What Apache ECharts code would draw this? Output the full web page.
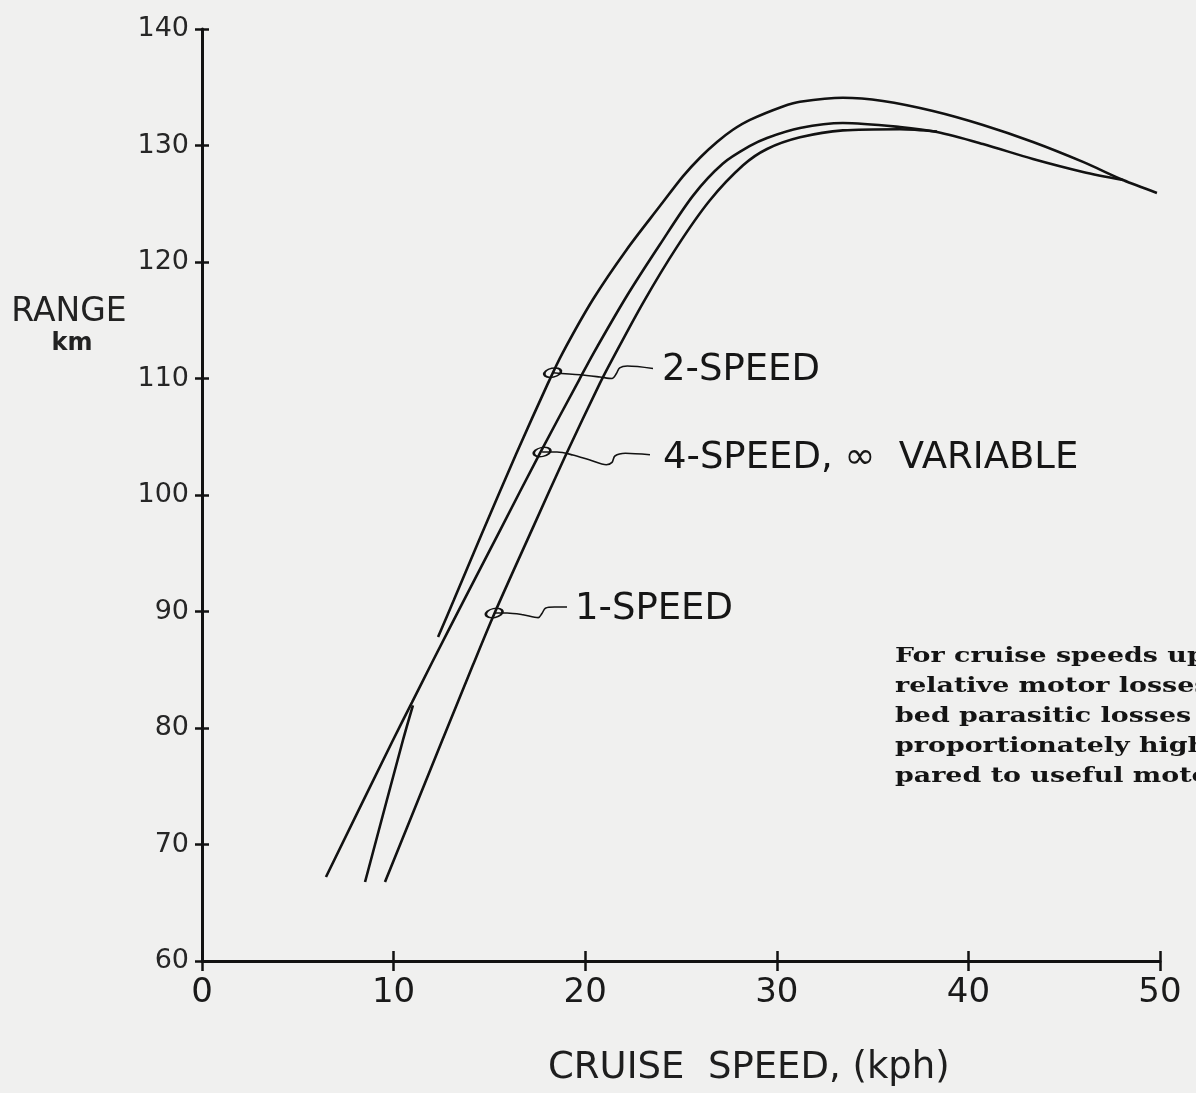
<!DOCTYPE html>
<html>
<head>
<meta charset="utf-8">
<title>Range vs cruise speed</title>
<script src="https://cdn.jsdelivr.net/npm/echarts@6/dist/echarts.min.js"></script>
<style>
  html, body { margin: 0; padding: 0; background: #f0f0ef; }
  #chart { width: 1196px; height: 1093px; }
</style>
</head>
<body>
<div id="chart"></div>
<script>
// Axis scales
const speedMin = 0, speedMax = 50, speedStep = 10;
const rangeMin = 60, rangeMax = 140, rangeStep = 10;

// Range (km) against cruise speed (kph) for each transmission
const twoSpeed = [
  [12.32, 87.81], [13.15, 91.00], [14.56, 96.50], [16.39, 103.50], [18.06, 109.60],
  [18.79, 112.10], [20.41, 116.80], [22.18, 121.10], [23.90, 124.80], [25.10, 127.35],
  [25.99, 128.95], [26.88, 130.30], [27.71, 131.35], [28.60, 132.20], [30.32, 133.35],
  [31.21, 133.75], [33.45, 134.10], [35.54, 133.82], [38.15, 132.96], [40.76, 131.76],
  [43.37, 130.30], [45.98, 128.59], [48.07, 127.04], [49.84, 125.93]
];
const fourSpeedVariable = [
  [6.47, 67.21], [9.92, 78.80], [10.96, 82.20], [12.00, 85.60], [13.62, 90.80],
  [15.55, 96.95], [17.64, 103.60], [19.68, 109.87], [20.41, 112.10], [22.18, 117.10],
  [23.90, 121.50], [25.63, 125.70], [27.19, 128.45], [28.60, 129.96], [29.49, 130.65],
  [31.21, 131.50], [33.45, 131.93], [36.43, 131.59], [38.36, 131.16], [40.76, 130.13],
  [43.37, 128.84], [45.98, 127.73], [48.07, 127.04]
];
// low-speed branch where the 4-speed curve leaves the variable one
const fourSpeedLow = [
  [8.51, 66.78], [10.49, 78.97], [11.01, 81.95]
];
const oneSpeed = [
  [9.55, 66.78], [12.53, 78.90], [14.14, 85.40], [15.24, 89.75], [17.27, 97.20],
  [18.95, 103.30], [20.77, 109.60], [21.40, 111.60], [23.02, 116.50], [24.79, 121.30],
  [26.51, 125.30], [28.24, 128.30], [29.49, 129.70], [31.21, 130.70], [33.45, 131.30],
  [36.43, 131.40], [38.36, 131.20]
];

// Curve call-outs: loop on the curve, wavy leader, label text
const calloutNames = ['2-SPEED', '4-SPEED, \u221E  VARIABLE', '1-SPEED'];
const calloutLoops = [[18.30, 110.50], [17.75, 103.69], [15.25, 89.87]];
const calloutLabelAt = [[23.54, 110.73], [23.59, 103.18], [19.00, 90.21]];
const leader2 = [
  [18.30, 110.50], [19.73, 110.32], [20.77, 110.13], [21.40, 110.00],
  [21.62, 110.40], [21.80, 110.92], [22.20, 111.07], [23.54, 110.86]
];
const leader4 = [
  [17.75, 103.69], [18.53, 103.69], [19.36, 103.43], [20.25, 103.00], [21.10, 102.60],
  [21.40, 102.80], [21.55, 103.35], [22.10, 103.58], [23.38, 103.45]
];
const leader1 = [
  [15.25, 89.87], [15.92, 89.87], [16.75, 89.72], [17.55, 89.47],
  [17.75, 89.85], [17.92, 90.28], [18.40, 90.38], [19.05, 90.38]
];

const noteLines = [
  'For cruise speeds up to',
  'relative motor losses and',
  'bed parasitic losses are',
  'proportionately high com-',
  'pared to useful motor output'
];

const ink = '#121212';
const letterFont = '"DejaVu Sans", "Noto Sans", sans-serif';

const chart = echarts.init(document.getElementById('chart'), null, { renderer: 'canvas' });

function curve(name, data) {
  return {
    name, type: 'line', data, xAxisIndex: 0, yAxisIndex: 0,
    showSymbol: false, smooth: 0.3,
    lineStyle: { color: ink, width: 2.6, opacity: 1 }, silent: true, z: 3
  };
}
function leader(name, data) {
  return {
    name, type: 'line', data, xAxisIndex: 0, yAxisIndex: 0,
    showSymbol: false, smooth: 0.3,
    lineStyle: { color: ink, width: 1.6, opacity: 1 }, silent: true, z: 4
  };
}

function valueAxis(min, max, step, extra) {
  return Object.assign({
    type: 'value', min, max, interval: step,
    splitLine: { show: false },
    axisLine: { show: true, onZero: false, lineStyle: { color: ink, width: 3 } }
  }, extra);
}

const option = {
  backgroundColor: '#f0f0ef',
  animation: false,
  grid: { left: 202, right: 36, top: 29, bottom: 132, containLabel: false },
  xAxis: [
    valueAxis(speedMin, speedMax, speedStep, {
      position: 'bottom',
      axisTick: { show: true, length: 10, lineStyle: { color: ink, width: 2.5 } },
      axisLabel: { margin: 15, fontSize: 34, fontFamily: letterFont, color: '#1a1a1a' }
    }),
    valueAxis(speedMin, speedMax, speedStep, {
      position: 'bottom',
      axisLine: { show: false },
      axisTick: { show: true, inside: true, length: 10, lineStyle: { color: ink, width: 2.5 } },
      axisLabel: { show: false }
    })
  ],
  yAxis: [
    valueAxis(rangeMin, rangeMax, rangeStep, {
      position: 'left',
      axisTick: { show: true, length: 7, lineStyle: { color: ink, width: 2.5 } },
      axisLabel: { margin: 13, fontSize: 27, fontFamily: letterFont, color: '#262626' }
    }),
    valueAxis(rangeMin, rangeMax, rangeStep, {
      position: 'left',
      axisLine: { show: false },
      axisTick: { show: true, inside: true, length: 7, lineStyle: { color: ink, width: 2.5 } },
      axisLabel: { show: false }
    })
  ],
  series: [
    curve('2-speed', twoSpeed),
    curve('4-speed, infinitely variable', fourSpeedVariable),
    curve('4-speed low gear', fourSpeedLow),
    curve('1-speed', oneSpeed),
    leader('2-speed leader', leader2),
    leader('4-speed leader', leader4),
    leader('1-speed leader', leader1),
    {
      name: 'loops', type: 'scatter', silent: true, z: 5,
      data: calloutLoops,
      symbol: 'circle', symbolSize: [17, 9], symbolRotate: 12,
      itemStyle: { color: 'rgba(0,0,0,0)', borderColor: ink, borderWidth: 2, opacity: 1 }
    },
    {
      name: 'callouts', type: 'scatter', silent: true, z: 5,
      data: calloutLabelAt.map((p, i) => ({ value: p, name: calloutNames[i] })),
      symbolSize: 0,
      itemStyle: { opacity: 1 },
      label: {
        show: true, position: 'right', distance: 9, opacity: 1,
        formatter: '{b}', fontSize: 37, fontFamily: letterFont, color: '#161616'
      }
    }
  ],
  graphic: [
    {
      type: 'text', x: 69, y: 312,
      style: { text: 'RANGE', font: '33px ' + letterFont, fill: '#222', align: 'center', verticalAlign: 'middle' }
    },
    {
      type: 'text', x: 72, y: 344,
      style: { text: 'km', font: 'bold 24px ' + letterFont, fill: '#222', align: 'center', verticalAlign: 'middle' }
    },
    {
      type: 'text', x: 548, y: 1068,
      style: { text: 'CRUISE  SPEED, (kph)', font: '37px ' + letterFont, fill: '#1e1e1e', align: 'left', verticalAlign: 'middle' }
    },
    {
      type: 'text', x: 895, y: 642, scaleX: 1.28,
      style: {
        text: noteLines.join('\n'), font: 'bold 21px "DejaVu Serif", "Liberation Serif", serif',
        fill: '#141414', lineHeight: 30, align: 'left', verticalAlign: 'top'
      }
    }
  ]
};

chart.setOption(option);
</script>
</body>
</html>
